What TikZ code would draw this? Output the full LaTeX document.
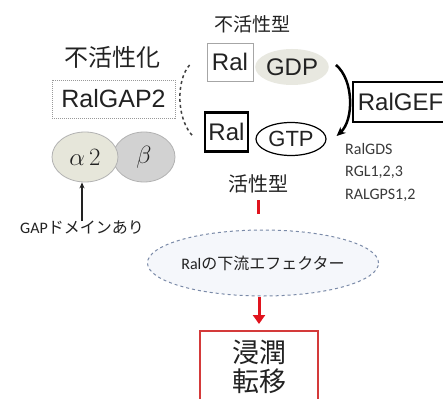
\documentclass[tikz,border=0pt]{standalone}
\usepackage{fontspec}
\setmainfont{Liberation Sans}
\newfontfamily\jpfont{Noto Sans CJK JP}
\newfontfamily\calfont{Carlito}
\usetikzlibrary{arrows.meta,shapes.geometric,calc}
\definecolor{txt}{HTML}{222222}
\definecolor{listtxt}{HTML}{3A3A3A}
\definecolor{alphafill}{HTML}{E6E6DA}
\definecolor{betafill}{HTML}{D2D2D2}
\definecolor{gdpfill}{HTML}{E8E8E0}
\definecolor{effborder}{HTML}{7A8AA8}
\definecolor{efffill}{HTML}{F5F7FB}
\definecolor{boxred}{HTML}{D43A3A}
\definecolor{arrred}{HTML}{E0141E}
\newcommand{\fs}[1]{\fontsize{#1}{#1}\selectfont}
\begin{document}
\begin{tikzpicture}[x=1pt,y=-1pt,
  every node/.style={inner sep=0pt, text=txt},
  jp/.style={font=\jpfont\fs{#1}},
  rbox/.style={draw, minimum width=46, minimum height=38, font=\fs{24}},
]
\useasboundingbox (0,0) rectangle (443,398);
\clip (0,0) rectangle (443,398);
\fill[white] (0,0) rectangle (443,398);

% labels
\node[jp=19] (lblinact) at (252,24) {不活性型};
\node[jp=24] (lblgap) at (112,57) {不活性化};
\node[jp=20] (lblact) at (258,184) {活性型};

% RalGAP2
\node[draw=gray!80, dash pattern=on 1pt off 1pt, line width=0.8, minimum width=123, minimum height=38, font=\fs{25}] (gap) at (113.5,99) {RalGAP2};
\node[ellipse, fill=betafill, draw=gray!60, line width=0.8, minimum width=62, minimum height=50, font=\fs{26}] (beta) at (144,157) {$\beta$};
\node[ellipse, fill=alphafill, draw=gray!60, line width=0.8, minimum width=66, minimum height=50, font=\fs{24}] (alpha) at (85,157) {$\alpha\,2$};
\node[font=\fs{16}] (gapdom) at (82,228) {{\calfont GAP}{\jpfont ドメインあり}};
\draw[-{Stealth[length=6,width=5]}, line width=1.3, txt] (gapdom.north) -- (gapdom.north |- alpha.south);

% Ral GDP / GTP
\node[rbox, draw=gray!70, line width=0.8] (ralA) at (230,62) {Ral};
\node[ellipse, fill=gdpfill, minimum width=68, minimum height=36, font=\fs{24}] (gdp) at (292,67) {GDP};
\node[rbox, line width=2.5, minimum width=43, minimum height=39] (ralB) at (226.5,132) {Ral};
\node[ellipse, draw, line width=1.2, minimum width=70, minimum height=33, font=\fs{22}] (gtp) at (291,139) {GTP};

% GAP dashed arc
\draw[dashed, line width=1.5, black!75] ($(ralA.west)+(-17,3)$) .. controls (176,80) and (176,120) .. ($(ralB.west)+(-10,5)$);

% GEF arrow
\draw[-{Stealth[length=9,width=8]}, line width=2.5] ($(gdp.east)+(7,-2)$) .. controls (354,80) and (354,120) .. ($(gtp.east)+(10,-3)$);
\node[draw, line width=2, minimum width=95, minimum height=40, anchor=west, font=\fs{24}] (gef) at (352,102) {RalGEF};
\node[anchor=north west, align=left, font=\calfont\fs{16}, text=listtxt] (gefs) at (345,143) {RalGDS\\[6.5pt]RGL1,2,3\\[6.5pt]RALGPS1,2};

% downstream
\coordinate (r1) at (258,200);
\coordinate (r2) at (258,214);
\draw[arrred, line width=3] (r1) -- (r2);
\node[ellipse, draw=effborder, dashed, line width=1, fill=efffill, minimum width=230, minimum height=66, font=\fs{16}] (eff) at (263,263) {{\calfont Ral}{\jpfont の下流エフェクター}};
\node[draw=boxred, line width=1.5, minimum width=118, minimum height=80, anchor=north] (out) at (259,330) {};
\node[jp=27] (inv) at (259,352) {浸潤};
\node[jp=27] (met) at (259,381) {転移};
\draw[-{Triangle[length=9,width=12]}, arrred, line width=3] (eff.south -| out.north) -- ($(out.north)+(0,-6)$);
\end{tikzpicture}
\end{document}
